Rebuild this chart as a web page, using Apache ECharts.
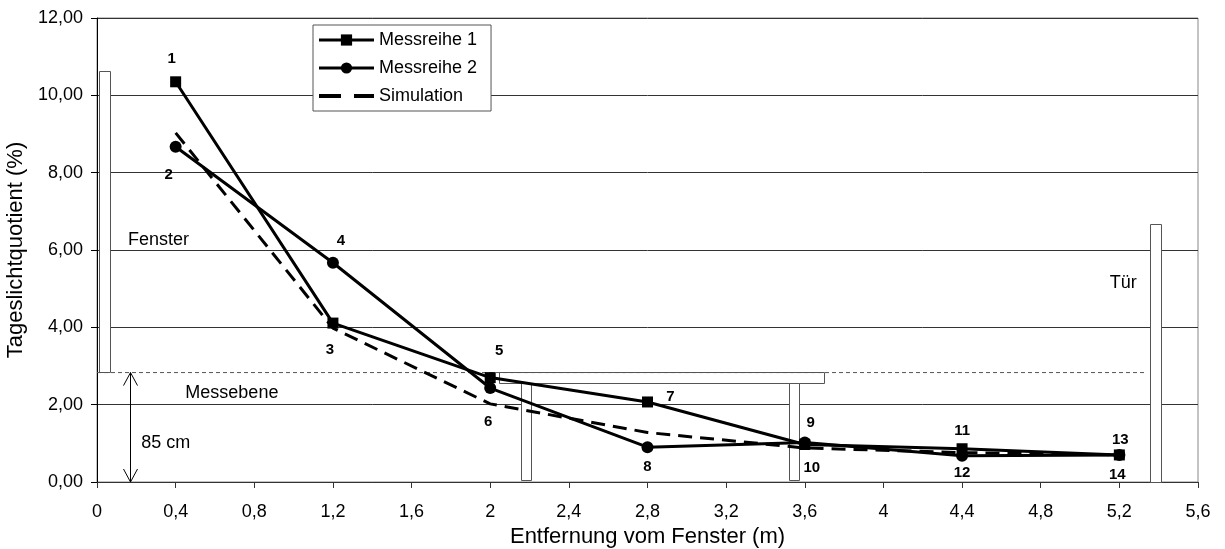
<!DOCTYPE html>
<html>
<head>
<meta charset="utf-8">
<script src="https://cdn.jsdelivr.net/npm/echarts@6/dist/echarts.min.js"></script>
<style>
html,body{margin:0;padding:0;background:#fff;}
#chart{width:1225px;height:549px;}
</style>
</head>
<body>
<div id="chart"></div>
<script>
// ---- data ----
const distances = [0.4, 1.2, 2.0, 2.8, 3.6, 4.4, 5.2];
const messreihe1 = [10.35, 4.11, 2.70, 2.07, 0.97, 0.86, 0.70];
const messreihe2 = [8.67, 5.67, 2.43, 0.90, 1.02, 0.68, 0.70];
const simulation = [9.03, 3.98, 2.02, 1.28, 0.88, 0.76, 0.70];
const pointNumbers1 = ['1', '3', '5', '7', '9', '11', '13'];
const pointNumbers2 = ['2', '4', '6', '8', '10', '12', '14'];
const seriesNames = ['Messreihe 1', 'Messreihe 2', 'Simulation'];
const xTicks = [0, 5.6, 0.4];      // min, max, interval
const yTicks = [0, 12, 2];         // min, max, interval
const xAxisTitle = 'Entfernung vom Fenster (m)';
const yAxisTitle = 'Tageslichtquotient (%)';
// room sketch (data units): [x1, y1, x2, y2]
const windowRect = [0.01, 2.85, 0.064, 10.63];
const tableTop = [2.046, 2.56, 3.697, 2.84];
const tableLegLeft = [2.156, 0.06, 2.206, 2.56];
const tableLegRight = [3.521, 0.06, 3.572, 2.56];
const doorRect = [5.355, 0, 5.41, 6.67];
const messebene = [0, 2.83, 5.34, 2.83];
const heightArrow = [0.166, 0, 2.83];
const annotationTexts = ['Fenster', 'Messebene', '85 cm', 'Tür'];
const annotationPos = [[0.313, 6.25], [0.686, 2.31], [0.35, 1.01], [5.22, 5.14]];

// ---- styles ----
const FONT = '"Liberation Sans", Arial, Helvetica, sans-serif';
const labelOffsets1 = [[-4, -23], [-3, 27], [9, -27], [23, -5], [6, -22], [0, -18], [1, -15]];
const labelOffsets2 = [[-7, 28], [8, -22], [-2, 34], [0, 20], [7, 25], [0, 17], [-2, 20]];
const pointLabel = {show: true, position: 'inside', color: '#000', fontFamily: FONT, fontWeight: 'bold', fontSize: 15};

function fmtNum(v, d) {
  return (Math.round(v * 100) / 100).toFixed(d).replace('.', ',');
}
function fmtX(v) {
  const r = Math.round(v * 10) / 10;
  return String(r).replace('.', ',');
}

function buildSeriesData(values, numbers, offsets) {
  return values.map((y, i) => ({
    value: [distances[i], y],
    label: Object.assign({}, pointLabel, {formatter: numbers[i], offset: offsets[i]})
  }));
}

const chart = echarts.init(document.getElementById('chart'), null, {renderer: 'canvas'});

const option = {
  animation: false,
  backgroundColor: '#fff',
  textStyle: {fontFamily: FONT},
  grid: {left: 97, right: 27, top: 18, bottom: 67, show: true, borderColor: '#888', borderWidth: 1, outerBoundsMode: 'none'},
  legend: {
    data: [
      {name: seriesNames[0]},
      {name: seriesNames[1]},
      {name: seriesNames[2], itemStyle: {opacity: 0}, lineStyle: {type: [22, 13], width: 4}}
    ],
    orient: 'vertical',
    left: 313, top: 25,
    itemWidth: 55, itemHeight: 14, itemGap: 10,
    padding: [6, 14, 6, 4],
    backgroundColor: '#fff',
    borderColor: '#555', borderWidth: 1, borderRadius: 0,
    lineStyle: {width: 3},
    textStyle: {fontFamily: FONT, fontSize: 18, color: '#000'},
    selectedMode: false
  },
  xAxis: {
    type: 'value', min: xTicks[0], max: xTicks[1], interval: xTicks[2],
    name: xAxisTitle, nameLocation: 'middle', nameGap: 39,
    nameTextStyle: {fontFamily: FONT, fontSize: 22, color: '#000'},
    axisLine: {show: true, lineStyle: {color: '#333', width: 1}},
    axisTick: {show: true, length: 6, lineStyle: {color: '#333'}},
    axisLabel: {formatter: fmtX, fontFamily: FONT, fontSize: 18, color: '#000', margin: 21},
    splitLine: {show: false}
  },
  yAxis: {
    type: 'value', min: yTicks[0], max: yTicks[1], interval: yTicks[2],
    name: yAxisTitle, nameLocation: 'middle', nameGap: 59, nameRotate: 90,
    nameTextStyle: {fontFamily: FONT, fontSize: 22, color: '#000'},
    axisLine: {show: true, lineStyle: {color: '#000', width: 1}},
    axisTick: {show: true, length: 6, lineStyle: {color: '#000'}},
    axisLabel: {formatter: v => fmtNum(v, 2), fontFamily: FONT, fontSize: 18, color: '#000', margin: 14},
    splitLine: {show: true, lineStyle: {color: '#333', width: 1}}
  },
  series: [
    {
      type: 'line', name: '_messebene', silent: true, symbol: 'none', z: 1,
      data: [[messebene[0], messebene[1]], [messebene[2], messebene[3]]],
      lineStyle: {color: '#555', width: 1, type: [4, 3]}
    },
    {
      type: 'custom', name: '_room', silent: true, z: 1,
      encode: {x: [0, 2], y: [1, 3]},
      data: [windowRect, tableTop, tableLegLeft, tableLegRight, doorRect],
      renderItem: function (params, api) {
        const p1 = api.coord([api.value(0), api.value(3)]);
        const p2 = api.coord([api.value(2), api.value(1)]);
        const x = Math.round(p1[0]) + 0.5, y = Math.round(p1[1]) + 0.5;
        return {
          type: 'rect',
          shape: {x: x, y: y, width: Math.round(p2[0] - p1[0]), height: Math.round(p2[1] - p1[1])},
          style: {fill: '#fff', stroke: '#555', lineWidth: 1}
        };
      }
    },
    {
      type: 'custom', name: '_arrow', silent: true, z: 1,
      encode: {x: 0, y: [1, 2]},
      data: [heightArrow],
      renderItem: function (params, api) {
        const b = api.coord([api.value(0), api.value(1)]);
        const t = api.coord([api.value(0), api.value(2)]);
        const x = Math.round(b[0]) + 0.5;
        const hw = 7, hl = 13;
        const st = {stroke: '#000', lineWidth: 1, fill: null};
        return {
          type: 'group',
          children: [
            {type: 'line', shape: {x1: x, y1: t[1], x2: x, y2: b[1]}, style: st},
            {type: 'polyline', shape: {points: [[x - hw, t[1] + hl], [x, t[1]], [x + hw, t[1] + hl]]}, style: st},
            {type: 'polyline', shape: {points: [[x - hw, b[1] - hl], [x, b[1]], [x + hw, b[1] - hl]]}, style: st}
          ]
        };
      }
    },
    {
      type: 'custom', name: '_texts', silent: true, z: 3,
      encode: {x: 0, y: 1},
      data: annotationPos,
      renderItem: function (params, api) {
        const p = api.coord([api.value(0), api.value(1)]);
        return {
          type: 'text', x: p[0], y: p[1],
          style: {text: annotationTexts[params.dataIndex], font: '18px ' + FONT, fill: '#000', align: 'center', verticalAlign: 'middle'}
        };
      }
    },
    {
      type: 'line', name: seriesNames[2], symbol: 'none', z: 4,
      data: distances.map((x, i) => [x, simulation[i]]),
      lineStyle: {color: '#000', width: 3, type: [14, 8]},
      itemStyle: {color: '#000', opacity: 0}
    },
    {
      type: 'line', name: seriesNames[1], symbol: 'circle', symbolSize: 12, z: 5,
      data: buildSeriesData(messreihe2, pointNumbers2, labelOffsets2),
      lineStyle: {color: '#000', width: 3},
      itemStyle: {color: '#000', borderWidth: 0}
    },
    {
      type: 'line', name: seriesNames[0], symbol: 'rect', symbolSize: 11, z: 6,
      data: buildSeriesData(messreihe1, pointNumbers1, labelOffsets1),
      lineStyle: {color: '#000', width: 3},
      itemStyle: {color: '#000', borderWidth: 0}
    }
  ]
};
chart.setOption(option);
</script>
</body>
</html>
